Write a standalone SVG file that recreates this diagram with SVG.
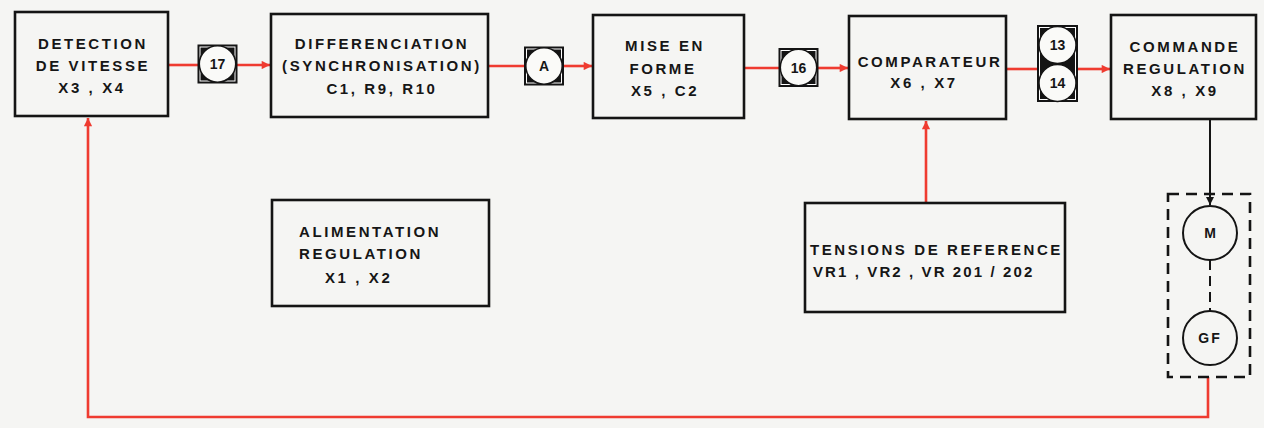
<svg xmlns="http://www.w3.org/2000/svg" width="1264" height="428" viewBox="0 0 1264 428">
<style>
.bx{fill:none;stroke:#141414;stroke-width:2.6}
.t{font-family:"Liberation Sans",Arial,sans-serif;font-weight:bold;font-size:15px;letter-spacing:2.6px;fill:#161616}
.c{text-anchor:middle}
.r{fill:none;stroke:#ef3b30;stroke-width:2.6}
.k{fill:none;stroke:#141414;stroke-width:2}
.ct{font-family:"Liberation Sans",Arial,sans-serif;font-weight:bold;font-size:14px;fill:#161616;text-anchor:middle}
</style>
<defs>
<marker id="ar" viewBox="0 0 10 10" refX="10" refY="5" markerWidth="4" markerHeight="3.2" markerUnits="strokeWidth" orient="auto"><path d="M0,0 L10,5 L0,10 z" fill="#ef3b30"/></marker>
<marker id="ak" viewBox="0 0 10 10" refX="10" refY="5" markerWidth="4.5" markerHeight="4" markerUnits="strokeWidth" orient="auto"><path d="M0,0 L10,5 L0,10 z" fill="#141414"/></marker>
<g id="sq">
<rect x="-20" y="-19.5" width="40" height="39" fill="#141414"/>
<rect x="-17.5" y="-17" width="35" height="34" fill="none" stroke="#fff" stroke-width="1"/>
<circle r="18.2" fill="#fafaf8" stroke="#141414" stroke-width="1.5"/>
</g>
</defs>
<rect width="1264" height="428" fill="#f5f5f3"/>

<g id="connectors">
<path class="r" d="M168,65 H198"/>
<path class="r" d="M237,65 H270" marker-end="url(#ar)"/>
<path class="r" d="M488,66 H524"/>
<path class="r" d="M564,66 H592" marker-end="url(#ar)"/>
<path class="r" d="M744,68 H779"/>
<path class="r" d="M818,68 H848" marker-end="url(#ar)"/>
<path class="r" d="M1006,69 H1037"/>
<path class="r" d="M1078,69 H1110" marker-end="url(#ar)"/>
<path class="r" d="M926,203 V121" marker-end="url(#ar)"/>
<path class="r" d="M1208,377 V417 H88 V118" marker-end="url(#ar)"/>
<path class="k" d="M1210,119 V205" marker-end="url(#ak)"/>
<path class="k" d="M1210,260 V311" stroke-dasharray="10,6"/>
</g>

<g id="n-detection">
<rect class="bx" x="15" y="12" width="153" height="104"/>
<text class="t c" x="93" y="49">DETECTION</text>
<text class="t c" x="93" y="71">DE VITESSE</text>
<text class="t c" x="92" y="93">X3 , X4</text>
</g>

<g id="n-17"><use href="#sq" x="217.5" y="64"/><text class="ct" x="217.5" y="69">17</text></g>

<g id="n-diff">
<rect class="bx" x="271" y="14" width="217" height="103"/>
<text class="t c" x="382" y="49">DIFFERENCIATION</text>
<text class="t c" x="382" y="71">(SYNCHRONISATION)</text>
<text class="t c" x="382" y="94">C1, R9, R10</text>
</g>

<g id="n-A"><use href="#sq" x="544" y="66"/><text class="ct" x="544" y="71">A</text></g>

<g id="n-mise">
<rect class="bx" x="593" y="15" width="151" height="103"/>
<text class="t c" x="665" y="51">MISE EN</text>
<text class="t c" x="663" y="74">FORME</text>
<text class="t c" x="665" y="96">X5 , C2</text>
</g>

<g id="n-16"><use href="#sq" x="798.5" y="67.5"/><text class="ct" x="798.5" y="72.5">16</text></g>

<g id="n-comp">
<rect class="bx" x="849" y="16" width="157" height="103"/>
<text class="t c" x="930" y="67">COMPARATEUR</text>
<text class="t c" x="924" y="88">X6 , X7</text>
</g>

<g id="n-13-14">
<rect x="1037" y="25" width="41" height="77" fill="#141414"/>
<rect x="1039.5" y="27.5" width="36" height="72" fill="none" stroke="#fff" stroke-width="1"/>
<circle cx="1057.5" cy="45" r="18.5" fill="#fafaf8" stroke="#141414" stroke-width="1.5"/>
<circle cx="1057.5" cy="83" r="18.5" fill="#fafaf8" stroke="#141414" stroke-width="1.5"/>
<text class="ct" x="1057.5" y="50">13</text>
<text class="ct" x="1057.5" y="88">14</text>
</g>

<g id="n-commande">
<rect class="bx" x="1111" y="15" width="145" height="104"/>
<text class="t c" x="1185" y="52">COMMANDE</text>
<text class="t c" x="1185" y="74">REGULATION</text>
<text class="t c" x="1185" y="96">X8 , X9</text>
</g>

<g id="n-alim">
<rect class="bx" x="272" y="200" width="217" height="106"/>
<text class="t" x="299" y="237">ALIMENTATION</text>
<text class="t" x="299" y="259">REGULATION</text>
<text class="t" x="325" y="283">X1 , X2</text>
</g>

<g id="n-tensions">
<rect class="bx" x="805" y="203" width="260" height="109"/>
<text class="t" x="810" y="255">TENSIONS DE REFERENCE</text>
<text class="t" x="813" y="277" style="letter-spacing:2.1px">VR1 , VR2 , VR 201 / 202</text>
</g>

<g id="n-motor">
<rect x="1168" y="194" width="82" height="183" fill="none" stroke="#141414" stroke-width="2.6" stroke-dasharray="11,7"/>
<circle cx="1210" cy="233" r="27" class="k"/>
<text class="ct" x="1210" y="238">M</text>
<circle cx="1210" cy="338" r="27" class="k"/>
<text class="ct" x="1210" y="343" style="letter-spacing:2px">GF</text>
</g>
</svg>
